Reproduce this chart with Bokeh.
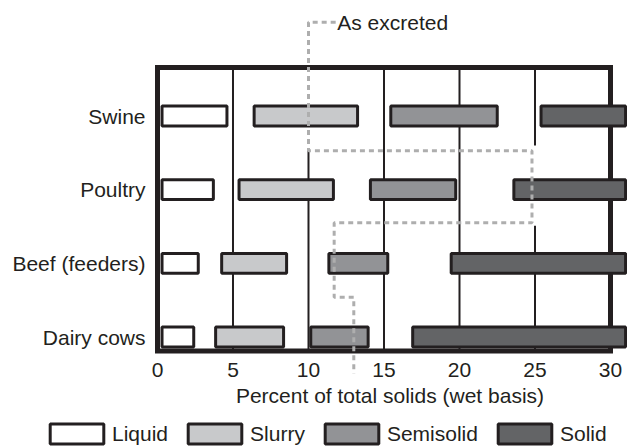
from bokeh.plotting import figure
from bokeh.models import Range1d, LinearAxis, FixedTicker, Legend, LegendItem
from bokeh.core.properties import value
from bokeh.embed import file_html
from bokeh.resources import INLINE

# ---- data -------------------------------------------------------------
animals = ["Dairy cows", "Beef (feeders)", "Poultry", "Swine"]
y_pos = [0, 1, 2, 3]

liquid_lo = [0.3, 0.3, 0.3, 0.3]
liquid_hi = [2.4, 2.7, 3.7, 4.6]
slurry_lo = [3.85, 4.25, 5.4, 6.4]
slurry_hi = [8.35, 8.55, 11.65, 13.25]
semi_lo = [10.15, 11.35, 14.1, 15.45]
semi_hi = [13.95, 15.25, 19.75, 22.5]
solid_lo = [16.9, 19.45, 23.6, 25.4]
solid_hi = [31.0, 31.0, 31.0, 31.0]

as_excreted = [13.0, 11.7, 24.8, 10.0]   # dashed step line, per animal

x_ticks = [0, 5, 10, 15, 20, 25, 30]
series_names = ["Liquid", "Slurry", "Semisolid", "Solid"]
series_colors = ["#ffffff", "#c8c9cb", "#929396", "#636466"]

# ---- layout constants ------------------------------------------------
FONT = "Liberation Sans"
FS = "21px"
INK = "#231f20"
BOT, TOP = -0.19, 3.66          # frame box in data units
BAR_H = 0.27

p = figure(width=627, height=447,
           x_range=Range1d(-10.397, 31.126), y_range=Range1d(-1.5, 4.568),
           x_axis_type=None, y_axis_type=None,
           toolbar_location=None, output_backend="svg",
           min_border=0, outline_line_color=None)
p.background_fill_color = "white"
p.border_fill_color = "white"

# vertical grid segments
grid_x = [5, 10, 15, 20, 25, 25]
grid_y0 = [BOT, BOT, BOT, BOT, BOT, 2.6]
grid_y1 = [TOP, 2.53, TOP, TOP, 1.51, TOP]
p.segment(x0=grid_x, y0=grid_y0, x1=grid_x, y1=grid_y1, line_color=INK, line_width=2)

# frame box
p.quad(left=[0], right=[30], bottom=[BOT], top=[TOP], fill_color=None,
       line_color=INK, line_width=5, line_join="miter")

# bars
renderers = []
for name, color, lo, hi in zip(series_names, series_colors,
                               [liquid_lo, slurry_lo, semi_lo, solid_lo],
                               [liquid_hi, slurry_hi, semi_hi, solid_hi]):
    r = p.hbar(y=y_pos, left=lo, right=hi, height=BAR_H, fill_color=color,
               line_color=INK, line_width=3)
    renderers.append(r)

# "As excreted" dashed step line
bounds = [4.273, 2.53, 1.55, 0.54, -0.495]
xs = [11.8]
ys = [bounds[0]]
for k, i in enumerate([3, 2, 1, 0]):
    xs += [as_excreted[i], as_excreted[i]]
    ys += [bounds[k], bounds[k + 1]]
p.line(xs, ys, line_color="#aeaeae", line_width=3, line_dash="5 4")
p.text(x=[11.9], y=[bounds[0]], text=["As excreted"], text_font=value(FONT),
       text_font_size=FS, text_color=INK, text_baseline="middle", text_align="left")

# axes
xaxis = LinearAxis(fixed_location=BOT, ticker=FixedTicker(ticks=x_ticks), bounds=(0, 30.8),
                   axis_label="Percent of total solids (wet basis)")
yaxis = LinearAxis(fixed_location=0, ticker=FixedTicker(ticks=y_pos),
                   major_label_overrides={y: a for y, a in zip(y_pos, animals)})
for ax in (xaxis, yaxis):
    ax.axis_line_color = None
    ax.major_tick_line_color = None
    ax.minor_tick_line_color = None
    ax.major_tick_out = 0
    ax.major_tick_in = 0
    ax.major_label_text_font = FONT
    ax.major_label_text_font_size = FS
    ax.major_label_text_color = INK
    ax.axis_label_text_font = FONT
    ax.axis_label_text_font_size = FS
    ax.axis_label_text_font_style = "normal"
    ax.axis_label_text_color = INK
xaxis.major_label_standoff = 12
xaxis.axis_label_standoff = 4
yaxis.major_label_standoff = 12
p.add_layout(xaxis, "below")
p.add_layout(yaxis, "left")

legend = Legend(items=[LegendItem(label=n, renderers=[r]) for n, r in zip(series_names, renderers)],
                orientation="horizontal", location=(43, 1),
                glyph_width=67, glyph_height=25, label_standoff=2, spacing=13,
                padding=0, margin=0, border_line_color=None, background_fill_alpha=0,
                label_text_font=FONT, label_text_font_size=FS, label_text_color=INK,
                label_height=25)
p.add_layout(legend)

open("out.html", "w").write(file_html(p, INLINE))
